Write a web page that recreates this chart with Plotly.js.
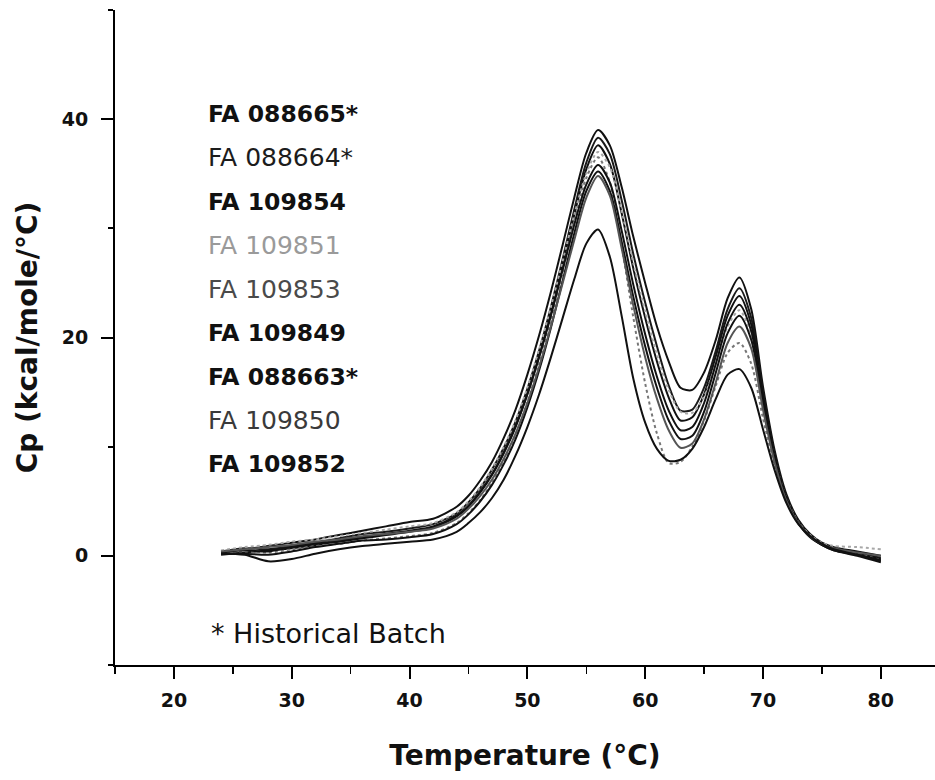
<!DOCTYPE html>
<html>
<head>
<meta charset="utf-8">
<script src="https://cdn.plot.ly/plotly-3.0.1.min.js"></script>
<style>
html,body{margin:0;padding:0;background:#fff;}
#chart{width:935px;height:780px;}
</style>
</head>
<body>
<div id="chart"></div>
<script>
// Temperature grid (°C)
const temps = [24,26,28,30,32,34,36,38,40,42,44,45,46,47,48,49,50,51,52,53,54,55,56,57,58,59,60,61,62,63,64,65,66,67,68,69,70,71,72,73,74,75,76,78,80];

// Series names (legend order)
const batchNames = ["FA 088665*","FA 088664*","FA 109854","FA 109851","FA 109853","FA 109849","FA 088663*","FA 109850","FA 109852"];
const historicalNote = "* Historical Batch";

// Cp values (kcal/mole/°C)
const cp_088665 = [0.3,0.6,0.9,1.2,1.5,1.9,2.3,2.7,3.1,3.4,4.5,5.5,6.9,8.6,10.8,13.4,16.6,20.2,24.2,28.5,32.9,36.9,39.0,37.6,33.8,29.2,25.0,21.0,17.8,15.4,15.2,16.8,19.8,23.6,25.5,22.6,15.5,9.6,5.6,3.3,2.0,1.2,0.8,0.4,0.0];
const cp_088664 = [0.4,0.7,0.6,0.9,1.2,1.6,2.0,2.2,2.5,2.9,3.9,4.9,6.2,7.9,9.9,12.3,15.3,18.8,22.8,27.2,31.8,36.0,38.3,36.8,32.6,27.6,23.2,19.2,15.6,13.3,13.4,15.4,18.8,22.6,24.5,21.8,15.0,9.3,5.4,3.2,1.9,1.1,0.7,0.3,-0.2];
const cp_109854 = [0.1,0.3,0.5,0.7,1.0,1.3,1.6,1.9,2.2,2.6,3.6,4.5,5.8,7.4,9.4,11.8,14.8,18.3,22.3,26.7,31.3,35.4,37.6,35.9,31.4,26.3,21.8,17.8,14.5,12.4,12.7,14.8,18.3,22.0,23.8,21.2,14.6,9.1,5.3,3.1,1.8,1.0,0.6,0.2,-0.3];
const cp_109851 = [0.5,0.8,1.0,1.3,1.5,1.8,2.1,2.4,2.7,3.0,4.0,5.0,6.3,8.0,10.0,12.4,15.4,18.9,22.8,27.0,31.3,35.0,37.0,35.6,31.6,26.8,22.4,18.4,15.2,13.2,13.1,14.6,17.6,21.0,22.5,20.2,14.0,8.8,5.2,3.1,1.9,1.2,0.9,0.8,0.6];
const cp_109853 = [0.2,0.4,0.3,0.6,0.9,1.1,1.4,1.6,1.8,2.1,3.0,3.9,5.1,6.7,8.7,11.1,14.1,17.6,21.6,26.0,30.6,34.6,36.5,34.2,28.4,21.8,15.8,11.2,8.5,8.6,10.0,12.4,15.6,18.6,19.5,17.6,12.6,8.2,5.0,3.0,1.8,1.1,0.6,0.2,-0.4];
const cp_109849 = [0.3,0.5,0.4,0.8,1.1,1.4,1.7,2.0,2.3,2.7,3.7,4.6,5.9,7.5,9.5,11.9,14.8,18.2,22.0,26.2,30.4,34.0,35.8,34.2,29.8,24.8,20.3,16.4,13.3,11.5,11.8,14.0,17.6,21.3,23.0,20.6,14.3,8.9,5.2,3.0,1.8,1.0,0.5,0.1,-0.4];
const cp_088663 = [0.2,0.2,0.1,0.4,0.8,1.1,1.4,1.5,1.7,2.0,2.9,3.8,5.0,6.5,8.4,10.7,13.6,17.0,20.9,25.2,29.6,33.4,35.2,33.4,28.8,23.7,19.2,15.4,12.4,10.7,11.0,13.2,16.8,20.4,22.0,19.8,13.9,8.7,5.1,3.0,1.7,1.0,0.5,0.0,-0.6];
const cp_109850 = [0.4,0.6,0.8,1.0,1.3,1.5,1.8,2.0,2.2,2.5,3.4,4.3,5.5,7.0,8.9,11.2,14.0,17.3,21.0,25.0,29.0,32.8,34.8,33.0,28.2,22.9,18.2,14.4,11.5,9.9,10.3,12.5,15.9,19.5,21.0,19.0,13.4,8.5,5.0,3.0,1.8,1.1,0.7,0.3,0.0];
const cp_109852 = [0.2,0.1,-0.5,-0.3,0.2,0.6,0.9,1.1,1.3,1.5,2.2,3.0,4.0,5.3,7.0,9.2,11.8,14.8,18.2,21.8,25.4,28.6,29.9,27.4,22.0,16.2,12.2,9.8,8.7,8.8,9.8,11.8,14.4,16.6,17.1,15.4,11.6,7.8,4.8,2.9,1.8,1.1,0.6,0.1,-0.5];

const seriesValues = [cp_088665,cp_088664,cp_109854,cp_109851,cp_109853,cp_109849,cp_088663,cp_109850,cp_109852];

// Styles (kept separate from data)
const lineColors = ["#111","#1a1a1a","#111","#a8a8a8","#777","#111","#111","#555","#111"];
const lineDash   = ["solid","solid","solid","dot","dot","solid","solid","solid","solid"];
const labelColors = ["#111","#1c1c1c","#111","#9a9a9a","#4a4a4a","#111","#111","#3a3a3a","#111"];
const labelWeights = ["bold","normal","bold","normal","normal","bold","bold","normal","bold"];

const traces = seriesValues.map((vals, i) => ({
  type: "scatter",
  mode: "lines",
  x: temps,
  y: vals,
  name: batchNames[i],
  line: {color: lineColors[i], width: 2, shape: "spline", smoothing: 0.8, dash: lineDash[i]},
  showlegend: false,
  hoverinfo: "x+y+name"
}));

// plot-area geometry in pixels for annotation placement
const plotTop = 10, plotH = 655, plotLeft = 115, plotW = 820;
const px2py = py => (plotTop + plotH - py) / plotH;
const px2px = px => (px - plotLeft) / plotW;

const annotations = batchNames.map((name, i) => ({
  xref: "paper", yref: "paper",
  x: px2px(206), y: px2py(114 + i * 43.75),
  xanchor: "left", yanchor: "middle",
  text: name, showarrow: false,
  font: {family: "DejaVu Sans", size: labelWeights[i] === "bold" ? 23.5 : 25, color: labelColors[i], weight: labelWeights[i]}
}));
annotations.push({
  xref: "paper", yref: "paper",
  x: px2px(209), y: px2py(633),
  xanchor: "left", yanchor: "middle",
  text: historicalNote, showarrow: false,
  font: {family: "DejaVu Sans", size: 27, color: "#111"}
});

const tickFont = {family: "DejaVu Sans", size: 19, color: "#111", weight: "bold"};

const layout = {
  width: 935, height: 780,
  margin: {l: 115, r: 0, t: 10, b: 115},
  paper_bgcolor: "#fff", plot_bgcolor: "#fff",
  showlegend: false,
  xaxis: {
    range: [15, 84.6],
    showgrid: false, zeroline: false,
    showline: true, linecolor: "#000", linewidth: 2,
    ticks: "outside", ticklen: 12, tickwidth: 2, tickcolor: "#000",
    tick0: 0, dtick: 10,
    minor: {ticks: "outside", ticklen: 7, tickwidth: 1.5, tickcolor: "#000", dtick: 5, showgrid: false},
    tickfont: tickFont,
    ticklabelstandoff: 5,
    title: {text: "Temperature (°C)", font: {family: "DejaVu Sans", size: 28, color: "#111", weight: "bold"}, standoff: 36}
  },
  yaxis: {
    range: [-10, 50],
    showgrid: false, zeroline: false,
    showline: true, linecolor: "#000", linewidth: 2,
    ticks: "outside", ticklen: 12, tickwidth: 2, tickcolor: "#000",
    tick0: 0, dtick: 20,
    minor: {ticks: "outside", ticklen: 5, tickwidth: 2, tickcolor: "#000", dtick: 10, showgrid: false},
    tickfont: tickFont,
    ticklabelstandoff: 9,
    title: {text: "Cp (kcal/mole/°C)", font: {family: "DejaVu Sans", size: 28, color: "#111", weight: "bold"}, standoff: 16}
  },
  annotations: annotations
};

Plotly.newPlot("chart", traces, layout, {displayModeBar: false, staticPlot: true});
</script>
</body>
</html>
